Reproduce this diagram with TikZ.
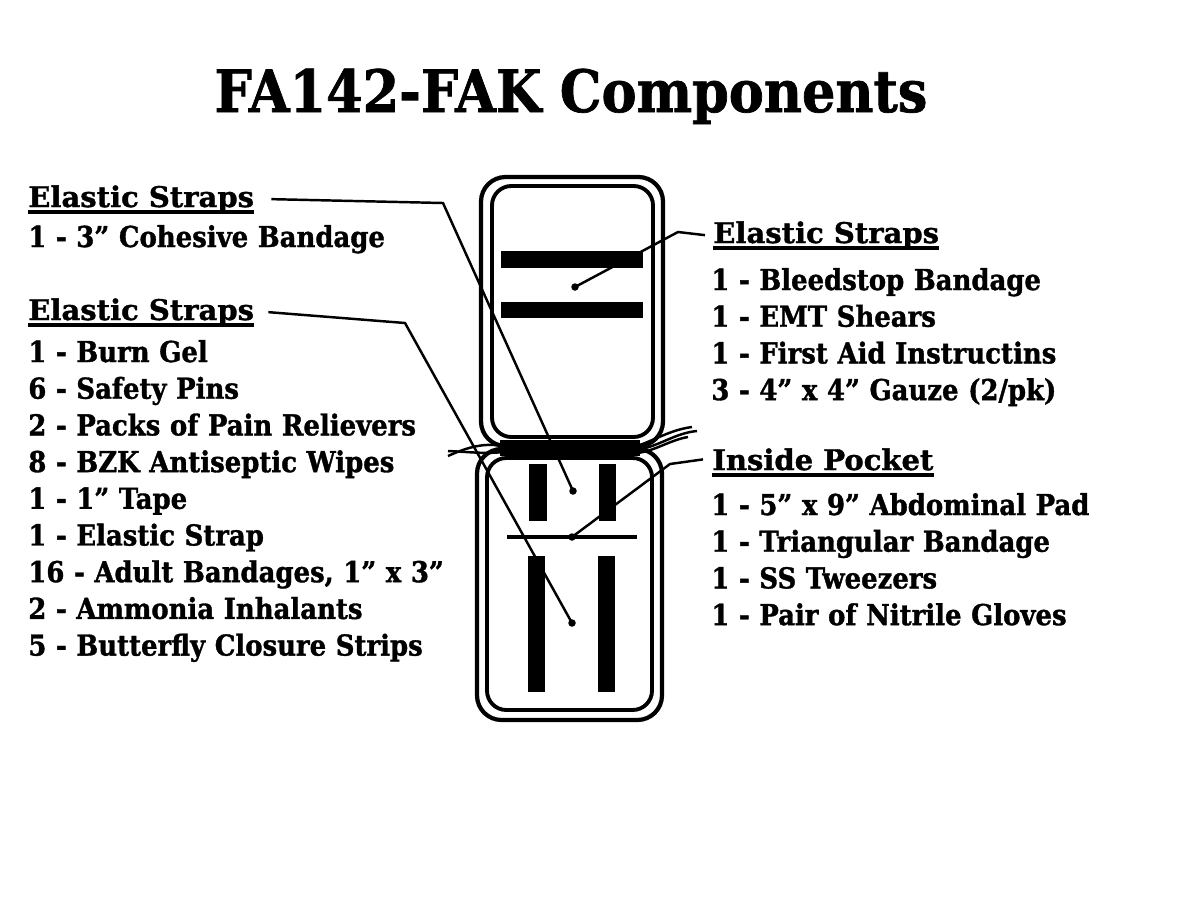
\documentclass[tikz,border=0pt]{standalone}
\usepackage{fontspec}
\newfontfamily\stencil[FakeStretch=0.9,BoldFeatures={FakeBold=1.2}]{DejaVu Serif}
\newfontfamily\stencilwide[FakeStretch=1.02,BoldFeatures={FakeBold=1.2}]{DejaVu Serif}
\usetikzlibrary{positioning}

\begin{document}
\begin{tikzpicture}[x=0.02cm,y=-0.02cm,
            title/.style={font=\stencil\bfseries\fontsize{33.2}{40}\selectfont, inner sep=0pt},
            head/.style={font=\stencilwide\bfseries\fontsize{16.2}{20}\selectfont, inner sep=0pt, anchor=base west},
            item/.style={font=\stencil\bfseries\fontsize{16.4}{20}\selectfont, inner sep=0pt,
                text width=8.4cm, align=left, text height=0.5cm, text depth=0.22cm},
            ul/.style={line width=1.8pt},
            leader/.style={line width=1.4pt},
            panel/.style={line width=2.4pt, rounded corners=14pt},
            inpanel/.style={line width=2.2pt, rounded corners=11pt},
            strap/.style={fill=black},
            dot/.style={circle, fill=black, inner sep=0pt, minimum size=0.15cm},
            string/.style={line width=1.4pt}]
            \fill[white] (0,0) rectangle (1200,900);
            \useasboundingbox (0,0) rectangle (1200,900);

            % Title
            \node[title, anchor=base] (ttl) at (571,112) {FA142-FAK Components};

            % The kit, top panel
            \draw[panel] (481,177) rectangle (663,446);
            \draw[inpanel] (492,186) rectangle (653,437);
            \fill[strap] (501,251) rectangle (643,268);
            \fill[strap] (501,302) rectangle (643,318);

            % The kit, bottom panel
            \draw[panel] (477,449) rectangle (662,720);
            \draw[inpanel] (487,458) rectangle (652,710);
            \fill[strap] (529,464) rectangle (547,521);
            \fill[strap] (599,464) rectangle (616,521);
            \draw[line width=1.8pt] (507,537) -- (637,537);
            \fill[strap] (528,556) rectangle (545,692);
            \fill[strap] (598,556) rectangle (615,692);

            % Hinge and ties
            \fill[black] (500,440) rectangle (640,456);
            \draw[string] (448,456) .. controls (470,446) and (485,443) .. (503,446);
            \draw[string] (448,451) .. controls (470,452) and (485,454) .. (503,452);
            \draw[string] (637,446) .. controls (655,440) and (670,430) .. (692,427);
            \draw[string] (637,450) .. controls (660,446) and (675,433) .. (697,431);
            \draw[string] (637,453) .. controls (655,451) and (670,440) .. (688,437);

            % Leader ends
            \node[dot] (dA) at (573,491) {};
            \node[dot] (dB) at (572,623) {};
            \node[dot] (dC) at (575,287) {};
            \node[dot] (dD) at (572,537) {};
            \coordinate (kA) at (443,203);
            \coordinate (kB) at (405,323);
            \coordinate (kC) at (678,232);
            \coordinate (kD) at (670,464);

            % Left side
            \node[head] (hL1) at (28,207) {Elastic Straps};
            \node[item, anchor=base west] (a1) at (28,247) {1 - 3” Cohesive Bandage};

            \node[head] (hL2) at (28,320) {Elastic Straps};
            \node[item, anchor=base west] (b1) at (28,362) {1 - Burn Gel};
            \node[item, below=0pt of b1] (b2) {6 - Safety Pins};
            \node[item, below=0pt of b2] (b3) {2 - Packs of Pain Relievers};
            \node[item, below=0pt of b3] (b4) {8 - BZK Antiseptic Wipes};
            \node[item, below=0pt of b4] (b5) {1 - 1” Tape};
            \node[item, below=0pt of b5] (b6) {1 - Elastic Strap};
            \node[item, below=0pt of b6] (b7) {16 - Adult Bandages, 1” x 3”};
            \node[item, below=0pt of b7] (b8) {2 - Ammonia Inhalants};
            \node[item, below=0pt of b8] (b9) {5 - Butterfly Closure Strips};

            % Right side
            \node[head] (hR1) at (713,243) {Elastic Straps};
            \node[item, anchor=base west] (c1) at (711,290) {1 - Bleedstop Bandage};
            \node[item, below=0pt of c1] (c2) {1 - EMT Shears};
            \node[item, below=0pt of c2] (c3) {1 - First Aid Instructins};
            \node[item, below=0pt of c3] (c4) {3 - 4” x 4” Gauze (2/pk)};

            \node[head] (hR2) at (712,470) {Inside Pocket};
            \node[item, anchor=base west] (e1) at (711,515) {1 - 5” x 9” Abdominal Pad};
            \node[item, below=0pt of e1] (e2) {1 - Triangular Bandage};
            \node[item, below=0pt of e2] (e3) {1 - SS Tweezers};
            \node[item, below=0pt of e3] (e4) {1 - Pair of Nitrile Gloves};

            % Underlines
            \foreach \h in {hL1,hL2,hR1,hR2}
                \draw[ul] ([yshift=-2.8pt]\h.base west) -- ([yshift=-2.8pt]\h.base east);

            % Leaders
            \draw[leader] ([xshift=0.34cm]hL1.east) -- (kA) -- (dA.center);
            \draw[leader] ([xshift=0.28cm]hL2.east) -- (kB) -- (dB.center);
            \draw[leader] (dC.center) -- (kC) -- ([xshift=-0.16cm]hR1.west);
            \draw[leader] (dD.center) -- (kD) -- ([xshift=-0.18cm]hR2.west);

        \end{tikzpicture}
\end{document}
